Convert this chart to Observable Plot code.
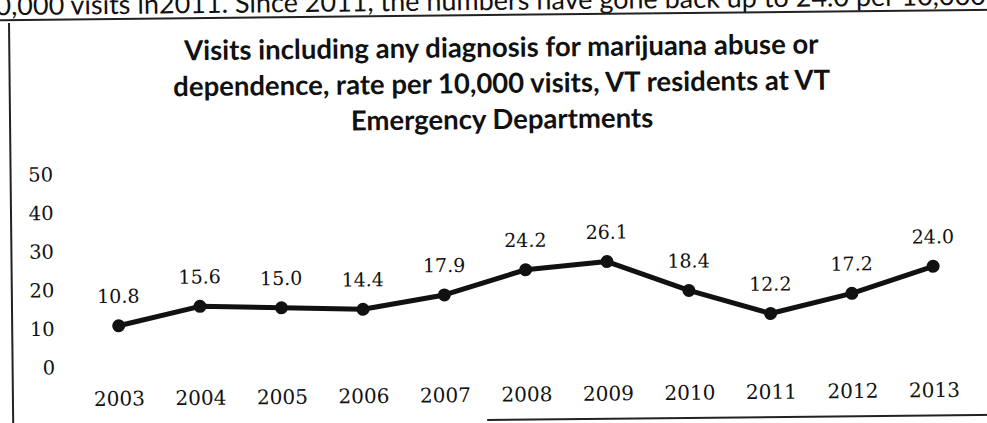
<!DOCTYPE html>
<html>
<head>
<meta charset="utf-8">
<script src="https://cdn.jsdelivr.net/npm/d3@7"></script>
<script src="https://cdn.jsdelivr.net/npm/@observablehq/plot@0.6"></script>
<style>
  html, body { margin: 0; padding: 0; background: #fff; width: 987px; height: 423px; overflow: hidden; }
  #wrap { position: absolute; left: 0; top: 0; width: 987px; height: 423px;
          transform: rotate(-0.6deg); transform-origin: 493px 211px; }
  #toptext { position: absolute; left: -18px; top: -16px; font-family: Lato, "Open Sans", sans-serif;
             font-size: 27px; color: #111; white-space: nowrap; line-height: 32px; }
  #topline { position: absolute; left: -10px; top: 14px; width: 1010px; height: 2px; background: #222; }
  #leftline { position: absolute; left: 10px; top: 18px; width: 2px; height: 420px; background: #222; }
  #bottomline { position: absolute; left: 485px; top: 419px; width: 515px; height: 2px; background: #222; }
  #title { position: absolute; left: 0; width: 1006px; top: 29px; text-align: center;
           font-family: Lato, "Open Sans", sans-serif; font-weight: bold; font-size: 27.5px;
           line-height: 36px; color: #111; }
  #chart { position: absolute; left: 0; top: 150px; }
</style>
</head>
<body>
<div id="wrap">
  <div id="toptext">10,000 visits in2011. Since 2011, the numbers have gone back up to 24.0 per 10,000</div>
  <div id="topline"></div>
  <div id="leftline"></div>
  <div id="bottomline"></div>
  <div id="title">Visits including any diagnosis for marijuana abuse or<br>dependence, rate per 10,000 visits, VT residents at VT<br>Emergency Departments</div>
  <div id="chart"></div>
</div>
<script>
const years = [2003, 2004, 2005, 2006, 2007, 2008, 2009, 2010, 2011, 2012, 2013];
const rates = [10.8, 15.6, 15.0, 14.4, 17.9, 24.2, 26.1, 18.4, 12.2, 17.2, 24.0];
const yTicks = [0, 10, 20, 30, 40, 50];

const data = years.map((year, i) => ({year, rate: rates[i]}));
const serif = "'DejaVu Serif', 'Liberation Serif', serif";

const chart = Plot.plot({
  width: 987,
  height: 273,
  marginTop: 20,
  marginBottom: 60,
  marginLeft: 117,
  marginRight: 55,
  style: {fontFamily: serif, fontSize: "19px", color: "#111", background: "transparent"},
  x: {domain: [2003, 2013]},
  y: {domain: [0, 50]},
  marks: [
    Plot.axisY({ticks: yTicks, tickSize: 0, tickPadding: 64, label: null, fontSize: 19.5}),
    Plot.axisX({ticks: years, tickSize: 0, tickPadding: 24, tickFormat: d => String(d), label: null, fontSize: 20}),
    Plot.line(data, {x: "year", y: "rate", stroke: "#111", strokeWidth: 5}),
    Plot.dot(data, {x: "year", y: "rate", r: 6.5, fill: "#111", stroke: null}),
    Plot.text(data, {x: "year", y: "rate", text: d => d.rate.toFixed(1), dy: -29, lineAnchor: "middle", fontSize: 19, fill: "#111"})
  ]
});
document.getElementById("chart").appendChild(chart);
</script>
</body>
</html>
